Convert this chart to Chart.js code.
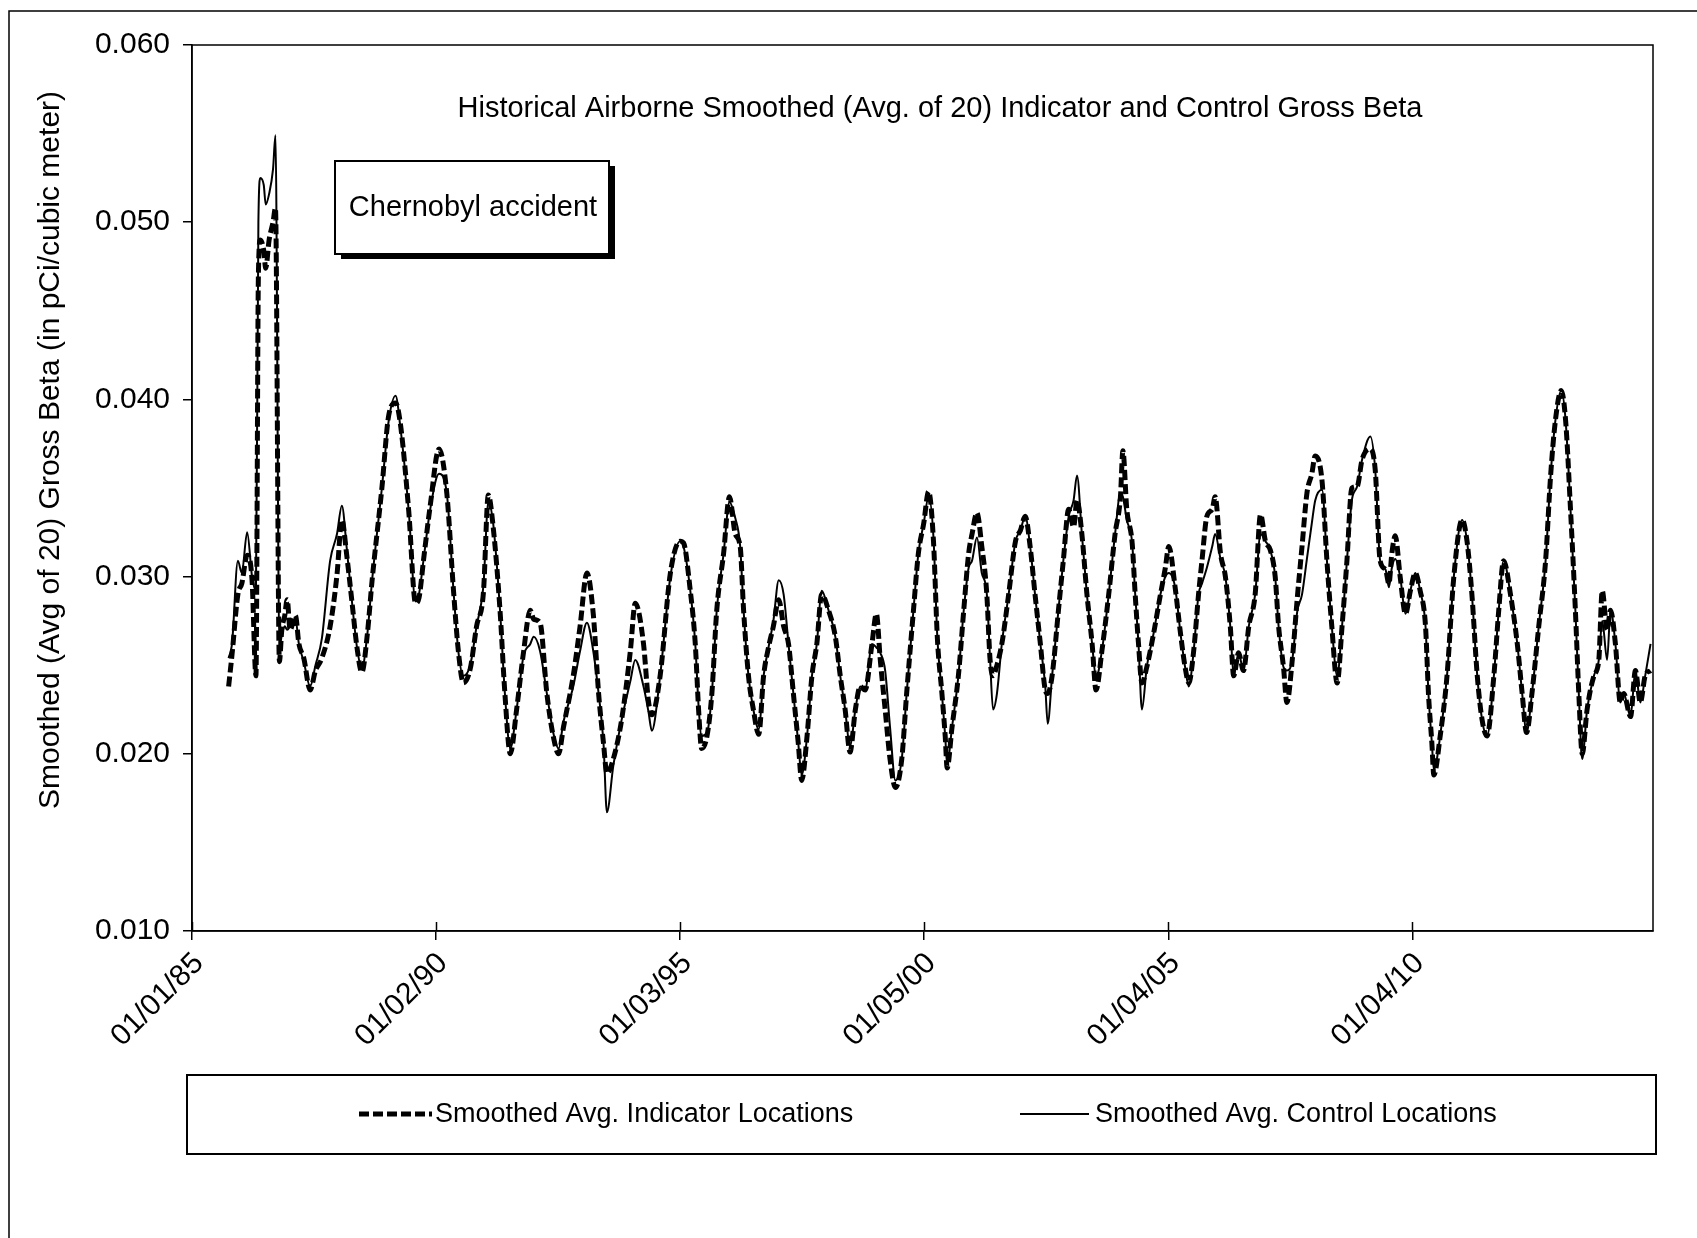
<!DOCTYPE html>
<html>
<head>
<meta charset="utf-8">
<script src="https://cdn.jsdelivr.net/npm/chart.js@4.4.1/dist/chart.umd.min.js"></script>
<style>
html,body{margin:0;padding:0;background:#fff;overflow:hidden}
canvas{display:block}
</style>
</head>
<body>
<canvas id="c" width="1697" height="1238"></canvas>
<script>
// ---- data (decimal-year position along the category axis, values in pCi/m3) ----
const dates = [
 1985.75,1985.82,1985.94,1986.02,1986.13,1986.23,1986.31,1986.36,1986.40,1986.47,
 1986.51,1986.58,1986.66,1986.71,1986.79,1986.84,1986.90,1986.95,1987.01,1987.12,
 1987.19,1987.29,1987.42,1987.53,1987.66,1987.83,1987.97,1988.07,1988.17,1988.28,
 1988.38,1988.48,1988.59,1988.69,1988.89,1989.03,1989.17,1989.27,1989.44,1989.58,
 1989.65,1989.75,1989.88,1990.06,1990.22,1990.36,1990.46,1990.56,1990.70,1990.83,
 1990.97,1991.07,1991.17,1991.31,1991.41,1991.52,1991.65,1991.79,1991.93,1992.00,
 1992.13,1992.27,1992.40,1992.51,1992.61,1992.81,1992.95,1993.09,1993.22,1993.33,
 1993.43,1993.50,1993.63,1993.80,1993.98,1994.08,1994.25,1994.35,1994.42,1994.59,
 1994.80,1995.00,1995.07,1995.20,1995.31,1995.38,1995.44,1995.55,1995.65,1995.75,
 1995.89,1996.01,1996.13,1996.23,1996.30,1996.40,1996.50,1996.61,1996.71,1996.81,
 1996.91,1997.02,1997.12,1997.22,1997.32,1997.42,1997.49,1997.60,1997.70,1997.80,
 1997.90,1998.04,1998.18,1998.28,1998.38,1998.48,1998.59,1998.69,1998.79,1998.93,
 1999.02,1999.10,1999.20,1999.30,1999.41,1999.54,1999.64,1999.78,1999.88,1999.99,
 2000.09,2000.19,2000.27,2000.36,2000.43,2000.47,2000.57,2000.70,2000.81,2000.91,
 2000.98,2001.08,2001.18,2001.28,2001.35,2001.41,2001.49,2001.59,2001.73,2001.87,
 2001.97,2002.07,2002.17,2002.27,2002.38,2002.48,2002.53,2002.62,2002.75,2002.85,
 2002.96,2003.06,2003.13,2003.23,2003.33,2003.44,2003.52,2003.64,2003.78,2003.91,
 2004.02,2004.07,2004.15,2004.26,2004.32,2004.39,2004.46,2004.56,2004.70,2004.84,
 2004.94,2005.01,2005.14,2005.25,2005.35,2005.42,2005.52,2005.62,2005.69,2005.79,
 2005.90,2005.96,2006.07,2006.17,2006.27,2006.34,2006.44,2006.54,2006.65,2006.78,
 2006.89,2006.99,2007.09,2007.19,2007.26,2007.36,2007.43,2007.54,2007.64,2007.74,
 2007.84,2007.94,2008.01,2008.15,2008.25,2008.35,2008.46,2008.56,2008.66,2008.76,
 2008.87,2008.97,2009.14,2009.24,2009.34,2009.45,2009.52,2009.58,2009.65,2009.75,
 2009.86,2009.96,2010.06,2010.16,2010.27,2010.33,2010.40,2010.44,2010.57,2010.71,
 2010.85,2011.02,2011.12,2011.22,2011.33,2011.43,2011.53,2011.67,2011.77,2011.87,
 2012.01,2012.15,2012.25,2012.34,2012.45,2012.59,2012.73,2012.83,2012.93,2013.05,
 2013.14,2013.24,2013.34,2013.41,2013.48,2013.58,2013.72,2013.82,2013.89,2013.99,
 2014.06,2014.16,2014.26,2014.33,2014.47,2014.57,2014.67,2014.77,2014.88
];
const indicator = [
 .0238,.0256,.0290,.0296,.0312,.0298,.0244,.0470,.0490,.0484,
 .0474,.0490,.0500,.0508,.0252,.0270,.0278,.0287,.0270,.0278,
 .0262,.0254,.0236,.0247,.0254,.0272,.0301,.0332,.0312,.0285,
 .0260,.0246,.0267,.0298,.0350,.0391,.0398,.0386,.0337,.0285,
 .0288,.0311,.0340,.0372,.0347,.0291,.0257,.0240,.0248,.0272,
 .0291,.0346,.0328,.0281,.0234,.0200,.0225,.0257,.0281,.0276,
 .0274,.0234,.0210,.0200,.0215,.0244,.0272,.0302,.0279,.0234,
 .0206,.0189,.0197,.0219,.0258,.0285,.0262,.0230,.0222,.0244,
 .0302,.0320,.0319,.0294,.0262,.0224,.0203,.0210,.0234,.0281,
 .0313,.0345,.0324,.0317,.0281,.0244,.0225,.0211,.0244,.0260,
 .0272,.0287,.0272,.0262,.0234,.0206,.0185,.0210,.0244,.0262,
 .0290,.0281,.0266,.0244,.0225,.0201,.0225,.0238,.0236,.0262,
 .0279,.0253,.0225,.0197,.0181,.0197,.0234,.0281,.0313,.0330,
 .0348,.0320,.0265,.0235,.0210,.0192,.0215,.0244,.0281,.0313,
 .0324,.0336,.0317,.0291,.0253,.0244,.0250,.0262,.0290,.0320,
 .0326,.0334,.0317,.0290,.0262,.0236,.0234,.0244,.0281,.0309,
 .0338,.0328,.0343,.0324,.0291,.0262,.0236,.0258,.0290,.0324,
 .0345,.0371,.0338,.0319,.0291,.0262,.0240,.0249,.0268,.0290,
 .0305,.0317,.0294,.0268,.0248,.0240,.0258,.0290,.0309,.0334,
 .0338,.0345,.0313,.0300,.0272,.0244,.0257,.0247,.0272,.0290,
 .0335,.0320,.0315,.0300,.0272,.0249,.0229,.0253,.0287,.0317,
 .0347,.0358,.0368,.0354,.0309,.0272,.0240,.0272,.0309,.0350,
 .0351,.0366,.0372,.0360,.0309,.0304,.0296,.0313,.0323,.0300,
 .0279,.0292,.0302,.0292,.0272,.0234,.0206,.0188,.0210,.0244,
 .0300,.0332,.0320,.0290,.0244,.0219,.0210,.0244,.0281,.0309,
 .0290,.0262,.0234,.0212,.0234,.0272,.0309,.0356,.0388,.0405,
 .0388,.0338,.0281,.0234,.0200,.0225,.0244,.0253,.0292,.0270,
 .0281,.0262,.0229,.0234,.0221,.0247,.0229,.0244,.0247
];
const control = [
 .0254,.0262,.0309,.0302,.0325,.0300,.0292,.0500,.0525,.0521,
 .0510,.0516,.0530,.0549,.0260,.0267,.0272,.0270,.0272,.0276,
 .0262,.0252,.0238,.0250,.0265,.0309,.0324,.0340,.0316,.0285,
 .0260,.0248,.0267,.0298,.0350,.0388,.0402,.0384,.0337,.0286,
 .0290,.0311,.0338,.0358,.0347,.0291,.0257,.0244,.0250,.0272,
 .0295,.0342,.0330,.0281,.0234,.0203,.0225,.0255,.0262,.0266,
 .0258,.0234,.0212,.0203,.0218,.0238,.0258,.0274,.0258,.0234,
 .0206,.0167,.0193,.0219,.0241,.0253,.0238,.0224,.0213,.0244,
 .0300,.0320,.0317,.0294,.0262,.0226,.0210,.0212,.0234,.0281,
 .0313,.0342,.0333,.0317,.0281,.0244,.0225,.0214,.0244,.0260,
 .0275,.0298,.0290,.0262,.0234,.0206,.0188,.0210,.0244,.0262,
 .0292,.0281,.0266,.0244,.0225,.0204,.0225,.0238,.0236,.0262,
 .0260,.0257,.0247,.0215,.0185,.0197,.0234,.0281,.0313,.0330,
 .0345,.0322,.0265,.0235,.0210,.0194,.0215,.0244,.0281,.0305,
 .0309,.0322,.0302,.0291,.0253,.0225,.0234,.0262,.0290,.0320,
 .0326,.0334,.0317,.0290,.0262,.0238,.0217,.0244,.0281,.0309,
 .0334,.0343,.0357,.0324,.0291,.0262,.0243,.0258,.0290,.0324,
 .0347,.0345,.0332,.0319,.0291,.0262,.0225,.0249,.0268,.0290,
 .0300,.0302,.0294,.0268,.0248,.0238,.0258,.0290,.0296,.0305,
 .0317,.0324,.0310,.0300,.0272,.0244,.0257,.0247,.0272,.0290,
 .0324,.0320,.0315,.0300,.0272,.0249,.0247,.0253,.0280,.0290,
 .0310,.0330,.0343,.0349,.0309,.0272,.0244,.0272,.0309,.0343,
 .0351,.0366,.0379,.0360,.0309,.0304,.0294,.0305,.0310,.0300,
 .0279,.0292,.0302,.0292,.0272,.0234,.0206,.0191,.0210,.0244,
 .0300,.0332,.0320,.0290,.0244,.0219,.0210,.0244,.0281,.0309,
 .0290,.0262,.0234,.0212,.0234,.0272,.0309,.0356,.0388,.0405,
 .0388,.0338,.0281,.0234,.0197,.0225,.0244,.0253,.0275,.0253,
 .0281,.0262,.0229,.0234,.0221,.0247,.0229,.0244,.0262
];
const tickPositions = [1985, 1990, 1995, 2000, 2005, 2010];
const tickLabels = ['01/01/85', '01/02/90', '01/03/95', '01/05/00', '01/04/05', '01/04/10'];
const yTickValues = [0.010, 0.020, 0.030, 0.040, 0.050, 0.060];
const seriesNames = ['Smoothed Avg. Indicator Locations', 'Smoothed Avg. Control Locations'];
const chartTitle = 'Historical Airborne Smoothed (Avg. of 20) Indicator and Control Gross Beta';
const yAxisTitle = 'Smoothed (Avg of 20) Gross Beta (in pCi/cubic meter)';
const annotationText = 'Chernobyl accident';

// ---- rendering ----
const FONT = "'Liberation Sans', Arial, Helvetica, sans-serif";
Chart.defaults.font.family = FONT;
Chart.defaults.color = '#000';

const toPoints = vals => dates.map((d, i) => ({ x: d, y: vals[i] }));
const DASH = [10, 4];

const decor = {
  id: 'decor',
  beforeDraw(chart) {
    const c = chart.ctx;
    c.save();
    c.fillStyle = '#fff';
    c.fillRect(0, 0, chart.width, chart.height);
    c.strokeStyle = '#000';
    c.lineWidth = 1.5;
    c.beginPath();
    c.moveTo(9, chart.height + 5);
    c.lineTo(9, 11);
    c.lineTo(chart.width + 5, 11);
    c.stroke();
    c.restore();
  },
  afterDraw(chart) {
    const c = chart.ctx;
    const a = chart.chartArea;
    const xs = chart.scales.x;
    c.save();
    // plot frame
    c.strokeStyle = '#000';
    c.lineWidth = 1.5;
    c.strokeRect(a.left, a.top, a.right - a.left, a.bottom - a.top);
    // inner half of the crossing x tick marks
    c.beginPath();
    tickPositions.forEach(v => {
      const px = Math.round(xs.getPixelForValue(v)) + 0.5;
      c.moveTo(px, a.bottom - 9);
      c.lineTo(px, a.bottom);
    });
    c.stroke();

    c.fillStyle = '#000';
    // chart title
    c.font = '29px ' + FONT;
    c.textAlign = 'center';
    c.textBaseline = 'middle';
    c.fillText(chartTitle, 940, 109);

    // y axis title
    c.save();
    c.translate(51, 450);
    c.rotate(-Math.PI / 2);
    c.font = '30px ' + FONT;
    c.fillText(yAxisTitle, 0, 0);
    c.restore();

    // Chernobyl annotation box with shadow
    c.fillStyle = '#000';
    c.fillRect(341, 166, 274, 93);
    c.fillStyle = '#fff';
    c.fillRect(335, 161, 274, 93);
    c.lineWidth = 2;
    c.strokeRect(335, 161, 274, 93);
    c.fillStyle = '#000';
    c.font = '29px ' + FONT;
    c.fillText(annotationText, 473, 208);

    // legend
    c.lineWidth = 2;
    c.strokeRect(187, 1075, 1469, 79);
    const ly = 1114;
    const ds = chart.data.datasets;
    c.strokeStyle = ds[0].borderColor;
    c.lineWidth = 5;
    c.setLineDash(DASH);
    c.beginPath(); c.moveTo(359, ly); c.lineTo(432, ly); c.stroke();
    c.setLineDash([]);
    c.lineWidth = 2;
    c.strokeStyle = ds[1].borderColor;
    c.beginPath(); c.moveTo(1020, ly); c.lineTo(1089, ly); c.stroke();
    c.textAlign = 'left';
    c.font = '27px ' + FONT;
    c.fillText(ds[0].label, 435, ly + 1);
    c.fillText(ds[1].label, 1095, ly + 1);
    c.restore();
  }
};

new Chart(document.getElementById('c'), {
  type: 'line',
  data: {
    datasets: [
      {
        label: seriesNames[0],
        data: toPoints(indicator),
        borderColor: '#000',
        borderWidth: 5,
        borderDash: DASH,
        pointRadius: 0,
        cubicInterpolationMode: 'monotone',
        fill: false
      },
      {
        label: seriesNames[1],
        data: toPoints(control),
        borderColor: '#000',
        borderWidth: 2,
        pointRadius: 0,
        cubicInterpolationMode: 'monotone',
        fill: false
      }
    ]
  },
  options: {
    responsive: false,
    animation: false,
    devicePixelRatio: 1,
    layout: { padding: { left: 0, top: 45, right: 44, bottom: 0 } },
    plugins: {
      legend: { display: false },
      title: { display: false },
      tooltip: { enabled: false }
    },
    scales: {
      x: {
        type: 'linear',
        min: 1985,
        max: 2014.93,
        afterFit(s) { s.height = 307; },
        afterBuildTicks(s) { s.ticks = tickPositions.map(v => ({ value: v })); },
        ticks: {
          autoSkip: false,
          maxRotation: 45,
          minRotation: 45,
          padding: 6,
          labelOffset: 7,
          font: { size: 30 },
          color: '#000',
          callback: (v, i) => tickLabels[i]
        },
        grid: { display: true, drawOnChartArea: false, drawTicks: true, tickLength: 9, color: '#000', lineWidth: 1.5 },
        border: { display: true, color: '#000', width: 1.5 }
      },
      y: {
        type: 'linear',
        min: 0.010,
        max: 0.060,
        afterFit(s) { s.width = 192; },
        afterBuildTicks(s) { s.ticks = yTickValues.map(v => ({ value: v })); },
        ticks: {
          padding: 13,
          font: { size: 30 },
          color: '#000',
          callback: v => Number(v).toFixed(3)
        },
        grid: { display: true, drawOnChartArea: false, drawTicks: true, tickLength: 9, color: '#000', lineWidth: 1.5 },
        border: { display: true, color: '#000', width: 1.5 }
      }
    }
  },
  plugins: [decor]
});
</script>
</body>
</html>
